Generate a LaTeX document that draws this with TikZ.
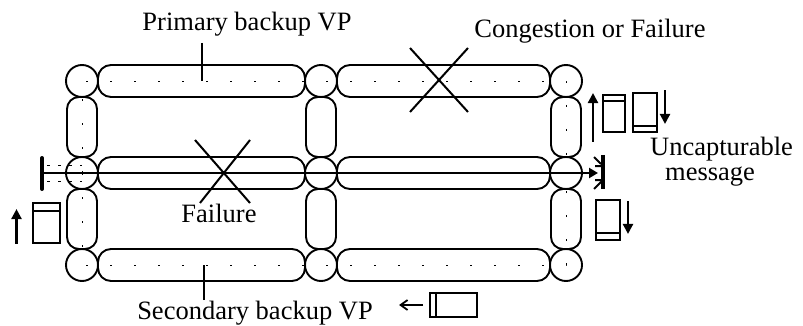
\documentclass[tikz,border=0pt]{standalone}
\usepackage{fontspec}
\setmainfont{Liberation Serif}
\usetikzlibrary{arrows.meta}
\begin{document}
\begin{tikzpicture}[x=1pt,y=-1pt,
  lw/.style={line width=1.9pt},
  junc/.style={circle, draw, line width=1.9pt, minimum size=32pt, inner sep=0pt},
  hcap/.style={draw, line width=1.9pt, rounded corners=13pt, minimum height=32pt, inner sep=0pt},
  vcap/.style={draw, line width=1.9pt, rounded corners=12pt, minimum width=30pt, minimum height=60pt, inner sep=0pt},
  vpath/.style={line width=0.9pt, dash pattern=on 2pt off 22pt},
  lbl/.style={font=\fontsize{26.5}{25}\selectfont, inner sep=0pt},
  pkt/.style={draw, line width=1.9pt, inner sep=0pt},
  mv/.style={line width=2.3pt, -{Triangle[length=10pt,width=10pt]}},
  xmark/.style={line width=2pt}
]
\useasboundingbox (0,0) rectangle (803,326);

% junctions
\foreach \c/\x in {1/82,2/321,3/566}
  \foreach \r/\y in {1/81,2/173,3/265}
    \node[junc] (c\r\c) at (\x,\y) {};

% horizontal links
\foreach \r/\y in {1/81,2/173,3/265}{
  \node[hcap, minimum width=207pt] (h\r1) at (201.5,\y) {};
  \node[hcap, minimum width=213pt] (h\r2) at (443.5,\y) {};
}
% vertical links
\foreach \c/\x in {1/82,2/321,3/566}{
  \node[vcap] (v1\c) at (\x,127) {};
  \node[vcap] (v2\c) at (\x,219) {};
}

% backup VPs (dotted)
\draw[vpath] (c21.center) -- (c11.center) -- (c13.center) -- (c23.center);
\draw[vpath] (c21.center) -- (c31.center) -- (c33.center) -- (c23.center);
\coordinate (bar) at (42,173);
\draw[line width=0.9pt, dash pattern=on 3pt off 8pt] (47,165) -- (c21.center |- 0,165);
\draw[line width=0.9pt, dash pattern=on 3pt off 8pt] (47,181) -- (c21.center |- 0,181);

% main path
\draw[line width=4pt, line cap=round] (42,158) -- (42,189);
\coordinate (hit) at (598,173);
\draw[line width=2pt, -{Triangle[length=9pt,width=10pt]}] (bar) -- (hit);
\draw[line width=3.5pt] (603,155) -- (603,189);
\draw[line width=2pt] (594,157) -- (601,164) (594,189) -- (601,182)
  (595,166) -- (601,166) (595,180) -- (601,180);

% failures
\draw[xmark] (410,48) -- (468,112) (468,48) -- (410,112);
\draw[xmark] (195,140) -- (250,203) (250,140) -- (200,203);

% labels
\node[lbl, anchor=base] (prim) at (247,31) {Primary backup VP};
\node[lbl, anchor=base] (cong) at (590,38) {Congestion or Failure};
\node[lbl, anchor=base] (fail) at (219,222) {Failure};
\node[lbl, anchor=base] (sec) at (255,319) {Secondary backup VP};
\node[lbl, anchor=north west, align=left] (unc) at (650,137) {Uncapturable\\\hspace*{15pt}message};

\coordinate (pp) at (202,43);
\draw[line width=1.5pt] (pp) -- (pp |- h11.center);
\coordinate (sp) at (204,300);
\draw[line width=1.5pt] (sp) -- (sp |- h31.center);

% packets
\node[pkt, minimum width=27pt, minimum height=40pt] (pk1) at (46.5,223) {};
\draw[lw] ([yshift=-9pt]pk1.north west) -- ([yshift=-9pt]pk1.north east);
\draw[mv] ([xshift=-30pt]pk1.south) -- ([xshift=-30pt,yshift=-7pt]pk1.north);

\node[pkt, minimum width=22pt, minimum height=37pt] (pk2) at (614,113.5) {};
\draw[lw] ([yshift=-7pt]pk2.north west) -- ([yshift=-7pt]pk2.north east);
\draw[mv] ([xshift=-21pt,yshift=-9pt]pk2.south) -- ([xshift=-21pt,yshift=1pt]pk2.north);

\node[pkt, minimum width=24pt, minimum height=39pt] (pk3) at (645,112.5) {};
\draw[lw] ([yshift=7pt]pk3.south west) -- ([yshift=7pt]pk3.south east);
\draw[mv] ([xshift=20pt,yshift=2pt]pk3.north) -- ([xshift=20pt,yshift=9pt]pk3.south);

\node[pkt, minimum width=24pt, minimum height=40pt] (pk4) at (608,220) {};
\draw[lw] ([yshift=8pt]pk4.south west) -- ([yshift=8pt]pk4.south east);
\draw[mv] ([xshift=20pt,yshift=-2pt]pk4.north) -- ([xshift=20pt,yshift=7pt]pk4.south);

\node[pkt, minimum width=47pt, minimum height=24pt] (pk5) at (453.5,305) {};
\draw[lw] ([xshift=7pt]pk5.north west) -- ([xshift=7pt]pk5.south west);
\draw[line width=1.8pt, -{Straight Barb[length=7pt,width=10pt]}] ([xshift=-6pt]pk5.west) -- ([xshift=-30pt]pk5.west);
\end{tikzpicture}
\end{document}
